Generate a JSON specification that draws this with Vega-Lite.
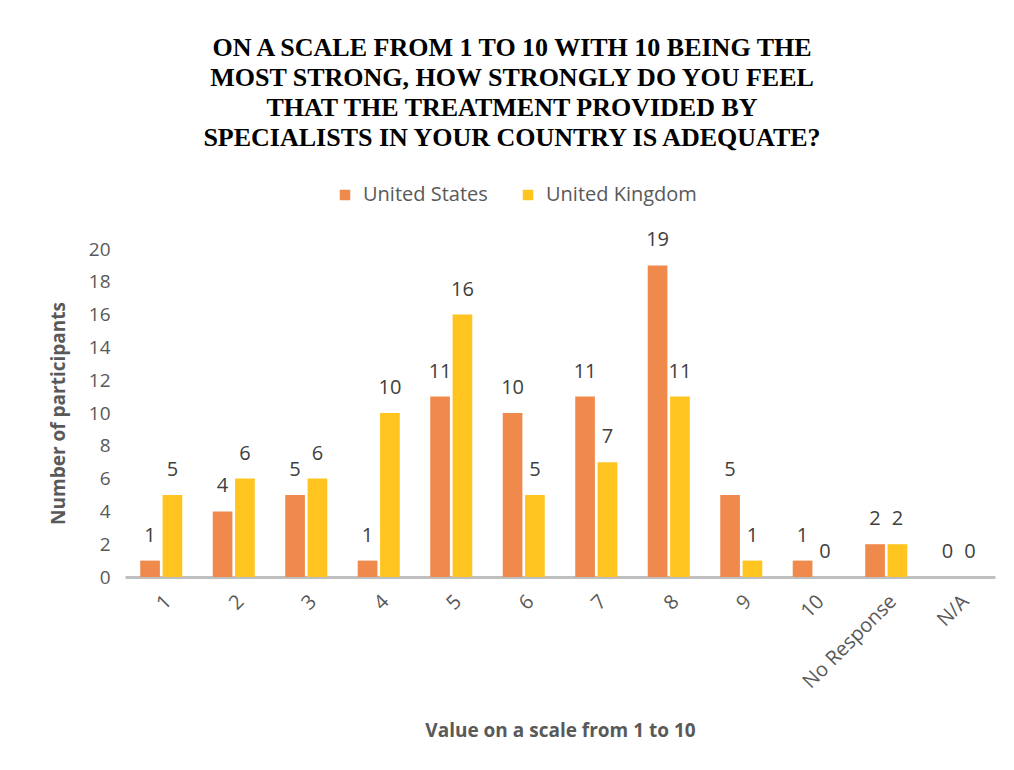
{
  "$schema": "https://vega.github.io/schema/vega-lite/v6.json",
  "autosize": {"type": "none"},
  "width": 870,
  "height": 328,
  "padding": {"left": 125, "top": 249, "right": 19, "bottom": 193},
  "background": "white",
  "title": {
    "text": ["ON A SCALE FROM 1 TO 10 WITH 10 BEING THE", "MOST STRONG, HOW STRONGLY DO YOU FEEL", "THAT THE TREATMENT PROVIDED BY", "SPECIALISTS IN YOUR COUNTRY IS ADEQUATE?"],
    "font": "Liberation Serif",
    "fontSize": 26,
    "fontWeight": "bold",
    "color": "#000000",
    "lineHeight": 30,
    "anchor": "middle",
    "frame": "group",
    "dx": -48,
    "offset": 34
  },
  "data": {
    "values": [
      {"cat": "1", "country": "United States", "n": 1},
      {"cat": "1", "country": "United Kingdom", "n": 5},
      {"cat": "2", "country": "United States", "n": 4},
      {"cat": "2", "country": "United Kingdom", "n": 6},
      {"cat": "3", "country": "United States", "n": 5},
      {"cat": "3", "country": "United Kingdom", "n": 6},
      {"cat": "4", "country": "United States", "n": 1},
      {"cat": "4", "country": "United Kingdom", "n": 10},
      {"cat": "5", "country": "United States", "n": 11},
      {"cat": "5", "country": "United Kingdom", "n": 16},
      {"cat": "6", "country": "United States", "n": 10},
      {"cat": "6", "country": "United Kingdom", "n": 5},
      {"cat": "7", "country": "United States", "n": 11},
      {"cat": "7", "country": "United Kingdom", "n": 7},
      {"cat": "8", "country": "United States", "n": 19},
      {"cat": "8", "country": "United Kingdom", "n": 11},
      {"cat": "9", "country": "United States", "n": 5},
      {"cat": "9", "country": "United Kingdom", "n": 1},
      {"cat": "10", "country": "United States", "n": 1},
      {"cat": "10", "country": "United Kingdom", "n": 0},
      {"cat": "No Response", "country": "United States", "n": 2},
      {"cat": "No Response", "country": "United Kingdom", "n": 2},
      {"cat": "N/A", "country": "United States", "n": 0},
      {"cat": "N/A", "country": "United Kingdom", "n": 0}
    ]
  },
  "encoding": {
    "x": {
      "field": "cat",
      "type": "nominal",
      "sort": null,
      "scale": {"paddingInner": 0.42, "paddingOuter": 0.21},
      "axis": {
        "title": "Value on a scale from 1 to 10",
        "titleFont": "Open Sans",
        "titleFontSize": 19,
        "titleFontWeight": "bold",
        "titleColor": "#595959",
        "titlePadding": 30,
        "labelAngle": -45,
        "labelFont": "Open Sans",
        "labelFontSize": 20,
        "labelColor": "#595959",
        "labelPadding": 14,
        "ticks": false,
        "domainColor": "#BFBFBF",
        "domainWidth": 3,
        "grid": false
      }
    },
    "xOffset": {"field": "country", "sort": ["United States", "United Kingdom"], "scale": {"paddingInner": 0.12}},
    "y": {
      "field": "n",
      "type": "quantitative",
      "scale": {"domain": [0, 20], "nice": false},
      "axis": {
        "title": "Number of participants",
        "titleFont": "Open Sans",
        "titleFontSize": 19,
        "titleFontWeight": "bold",
        "titleColor": "#595959",
        "titlePadding": 20,
        "values": [0, 2, 4, 6, 8, 10, 12, 14, 16, 18, 20],
        "labelFont": "Open Sans",
        "labelFontSize": 19,
        "labelColor": "#595959",
        "labelPadding": 15,
        "ticks": false,
        "domain": false,
        "grid": false
      }
    }
  },
  "layer": [
    {
      "mark": {"type": "bar", "stroke": null},
      "encoding": {
        "color": {
          "field": "country",
          "type": "nominal",
          "sort": ["United States", "United Kingdom"],
          "scale": {"domain": ["United States", "United Kingdom"], "range": ["#EF8A4C", "#FFC41F"]},
          "legend": {
            "title": null,
            "orient": "none",
            "direction": "horizontal",
            "legendX": 210,
            "legendY": -64,
            "symbolType": "square",
            "symbolSize": 110,
            "symbolOpacity": 1,
            "labelFont": "Open Sans",
            "labelFontSize": 20,
            "labelColor": "#595959",
            "labelOffset": 8,
            "columnPadding": 30
          }
        }
      }
    },
    {
      "mark": {"type": "text", "baseline": "middle", "dy": -25, "font": "Open Sans", "fontSize": 20, "color": "#404040"},
      "encoding": {"text": {"field": "n", "type": "quantitative"}}
    }
  ],
  "config": {"view": {"stroke": null}}
}
